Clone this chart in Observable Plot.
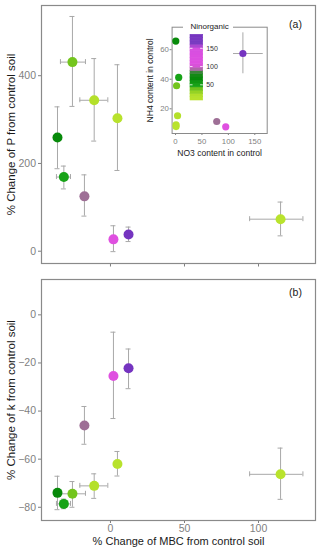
<!DOCTYPE html>
<html><head><meta charset="utf-8">
<script src="https://cdn.jsdelivr.net/npm/d3@7"></script>
<script src="https://cdn.jsdelivr.net/npm/@observablehq/plot@0.6"></script>
<style>
html,body{margin:0;padding:0;background:#fff;}
#chart{position:relative;width:319px;height:550px;overflow:hidden;}
#chart svg{position:absolute;display:block;}
</style></head><body><div id="chart"></div>
<script>
// ---- data (9 treatments) ----
const no3 = [0.5, 6, 2, 3.8, 1, 1, 78, 95, 127.5];
const no3Lo = [null, null, null, null, null, null, null, null, 90];
const no3Hi = [null, null, null, null, null, null, null, null, 166];
const nh4 = [65.8, 41.2, 35.6, 15.3, 9.2, 8.0, 11.4, 7.8, 57.4];
const nh4Lo = [null, null, null, null, null, null, null, null, 43.7];
const nh4Hi = [null, null, null, null, null, null, null, null, 71.4];
const nInorganic = [66, 47, 38, 19, 10, 9, 89, 103, 185];
const mbc = [-35.8, -31.5, -25.7, -11, 4.7, 114.9, -17.6, 2, 12.2];
const mbcLo = [null, -36.5, -33.8, -20.7, null, 94, null, null, null];
const mbcHi = [null, -27, -16.9, -1.8, null, 130, null, null, null];
const pChange = [259, 169, 431, 344, 303, 73, 125, 27, 38];
const pLo = [188, 142, 330, 251, 184, 35, 80, -1, 22];
const pHi = [329, 194, 535, 439, 425, 112, 174, 58, 55];
const kChange = [-74, -78.6, -74.4, -71.1, -62, -66.3, -46, -25.4, -22.2];
const kLo = [-81, -80.6, -80, -76.3, -67, -76.7, -53.8, -43.1, -30.7];
const kHi = [-67.1, -76.6, -69.3, -66.1, -56.8, -55.4, -38.1, -7.2, -14.2];

const xTicks = [0, 50, 100];
const pTicks = [0, 200, 400];
const kTicks = [-80, -60, -40, -20, 0];
const insetXTicks = [0, 50, 100, 150];
const insetYTicks = [20, 40, 60];
const legendTicks = [50, 100, 150];

const xTitle = "% Change of MBC from control soil";
const pTitle = "% Change of P from control soil";
const kTitle = "% Change of k from control soil";
const insetXTitle = "NO3 content in control";
const insetYTitle = "NH4 content in control";
const legendTitle = "Ninorganic";

// colour scale (Ninorganic)
const colorStops = [7, 20, 37, 47, 66, 82, 89, 103, 150, 162, 187];
const colorRange = ["#bae32e", "#b3e02a", "#7dc91e", "#17a317", "#078a0a", "#1f8a1f", "#9e6f96", "#df50e0", "#d74ee0", "#7b3dc1", "#7533c0"];
const colorOpts = {type: "linear", domain: colorStops, range: colorRange, interpolate: d3.interpolateRgb};

const rows = mbc.map((_, i) => ({
  no3: no3[i], no3Lo: no3Lo[i], no3Hi: no3Hi[i],
  nh4: nh4[i], nh4Lo: nh4Lo[i], nh4Hi: nh4Hi[i],
  nin: nInorganic[i], mbc: mbc[i], mbcLo: mbcLo[i], mbcHi: mbcHi[i],
  p: pChange[i], pLo: pLo[i], pHi: pHi[i],
  k: kChange[i], kLo: kLo[i], kHi: kHi[i]
}));

const FONT = "Liberation Sans, Arial, Helvetica, sans-serif";
const ERR = "#a8a8a8";
const FRAME = "#8a8a8a";
const TXT = "#1a1a1a";

function errMarks(xk, yk, xlo, xhi, ylo, yhi, cap) {
  return [
    Plot.ruleX(rows, {x: xk, y1: ylo, y2: yhi, stroke: ERR, strokeWidth: 1}),
    Plot.ruleY(rows, {y: ylo, x1: xk, x2: xk, insetLeft: -cap, insetRight: -cap, stroke: ERR, strokeWidth: 1}),
    Plot.ruleY(rows, {y: yhi, x1: xk, x2: xk, insetLeft: -cap, insetRight: -cap, stroke: ERR, strokeWidth: 1}),
    Plot.ruleY(rows, {y: yk, x1: xlo, x2: xhi, stroke: ERR, strokeWidth: 1}),
    Plot.ruleX(rows, {x: xlo, y1: yk, y2: yk, insetTop: -cap, insetBottom: -cap, stroke: ERR, strokeWidth: 1}),
    Plot.ruleX(rows, {x: xhi, y1: yk, y2: yk, insetTop: -cap, insetBottom: -cap, stroke: ERR, strokeWidth: 1})
  ];
}

function place(svg, left, top) {
  svg.style.left = left + "px";
  svg.style.top = top + "px";
  document.getElementById("chart").appendChild(svg);
}

// ---- panel (a) ----
const panelA = Plot.plot({
  width: 319, height: 270,
  marginTop: 5, marginBottom: 7, marginLeft: 41, marginRight: 4,
  style: {fontFamily: FONT, fontSize: "10.5px", color: "#7f7f7f", background: "transparent", overflow: "visible"},
  x: {domain: [-46.6, 138.5], ticks: xTicks, tickSize: 3.5, tickFormat: () => "", label: null},
  y: {domain: [-28, 560], ticks: pTicks, tickSize: 3, tickPadding: 2.5, label: null},
  color: colorOpts,
  marks: [
    Plot.frame({stroke: FRAME, strokeWidth: 1.2}),
    ...errMarks("mbc", "p", "mbcLo", "mbcHi", "pLo", "pHi", 2.5),
    Plot.dot(rows, {x: "mbc", y: "p", r: 5, fill: "nin"}),
    Plot.text([pTitle], {text: d => d, frameAnchor: "left", rotate: -90, textAnchor: "middle", lineAnchor: "middle", dx: -30, fill: TXT, fontSize: 11.5}),
    Plot.text(["(a)"], {text: d => d, frameAnchor: "top-right", textAnchor: "middle", lineAnchor: "middle", dx: -20, dy: 19, fill: TXT, fontSize: 10.5})
  ]
});
place(panelA, 0, 0);

// ---- panel (b) ----
const panelB = Plot.plot({
  width: 319, height: 280,
  marginTop: 9, marginBottom: 30, marginLeft: 41, marginRight: 4,
  style: {fontFamily: FONT, fontSize: "10.5px", color: "#7f7f7f", background: "transparent", overflow: "visible"},
  x: {domain: [-46.6, 138.5], ticks: xTicks, tickSize: 3, tickPadding: 1.5, label: null},
  y: {domain: [-85.5, 14.7], ticks: kTicks, tickSize: 3, tickPadding: 2.5, label: null},
  color: colorOpts,
  marks: [
    Plot.frame({stroke: FRAME, strokeWidth: 1.2}),
    ...errMarks("mbc", "k", "mbcLo", "mbcHi", "kLo", "kHi", 2.5),
    Plot.dot(rows, {x: "mbc", y: "k", r: 5, fill: "nin"}),
    Plot.text([kTitle], {text: d => d, frameAnchor: "left", rotate: -90, textAnchor: "middle", lineAnchor: "middle", dx: -30, fill: TXT, fontSize: 11.5}),
    Plot.text([xTitle], {text: d => d, frameAnchor: "bottom", textAnchor: "middle", lineAnchor: "middle", dy: 20.5, fill: TXT, fontSize: 11}),
    Plot.text(["(b)"], {text: d => d, frameAnchor: "top-right", textAnchor: "middle", lineAnchor: "middle", dx: -20, dy: 13.5, fill: TXT, fontSize: 10.5})
  ]
});
place(panelB, 0, 270);

// ---- inset ----
const inset = Plot.plot({
  width: 130, height: 145,
  marginTop: 8.7, marginBottom: 30, marginLeft: 33.6, marginRight: 1.3,
  style: {fontFamily: FONT, fontSize: "7.8px", color: "#7f7f7f", background: "white", overflow: "visible"},
  x: {domain: [-6.5, 173.5], ticks: insetXTicks, tickSize: 2, tickPadding: 2.5, label: null},
  y: {domain: [3.3, 75.2], ticks: insetYTicks, tickSize: 2, tickPadding: 1.2, label: null},
  color: colorOpts,
  marks: [
    Plot.frame({stroke: FRAME, strokeWidth: 1}),
    ...errMarks("no3", "nh4", "no3Lo", "no3Hi", "nh4Lo", "nh4Hi", 0),
    Plot.dot(rows, {x: "no3", y: "nh4", r: 3.6, fill: "nin"}),
    Plot.text([insetYTitle], {text: d => d, frameAnchor: "left", rotate: -90, textAnchor: "middle", lineAnchor: "middle", dx: -21.6, fill: TXT, fontSize: 8.5}),
    Plot.text([insetXTitle], {text: d => d, frameAnchor: "bottom", textAnchor: "middle", lineAnchor: "middle", dy: 19.5, fill: TXT, fontSize: 8.5})
  ]
});
place(inset, 138, 18);

// ---- colour legend ----
const lo = colorStops[0], hi = colorStops[colorStops.length - 1], nbin = 20;
const legendBins = d3.range(nbin).map(i => {
  const a = lo + (hi - lo) * i / nbin, b = lo + (hi - lo) * (i + 1) / nbin;
  return {a, b, m: (a + b) / 2};
});
const legend = Plot.plot({
  width: 50, height: 86,
  marginTop: 16.3, marginBottom: 4, marginLeft: 7, marginRight: 30.3,
  style: {fontFamily: FONT, fontSize: "7px", color: "#333", background: "white", overflow: "visible"},
  x: {domain: [0, 1], axis: null},
  y: {domain: [lo, hi], ticks: legendTicks, axis: "right", tickSize: 0, tickPadding: 3, label: null},
  color: colorOpts,
  marks: [
    Plot.rect(legendBins, {x1: 0, x2: 1, y1: "a", y2: "b", fill: "m", stroke: "m", strokeWidth: 0.6}),
    Plot.ruleY(legendTicks, {x1: 0, x2: 0.2, stroke: "white", strokeWidth: 0.8}),
    Plot.ruleY(legendTicks, {x1: 0.8, x2: 1, stroke: "white", strokeWidth: 0.8}),
    Plot.text([legendTitle], {text: d => d, frameAnchor: "top-left", textAnchor: "start", lineAnchor: "middle", dy: -8.6, fill: TXT, fontSize: 8})
  ]
});
place(legend, 183, 18);
</script></body></html>
